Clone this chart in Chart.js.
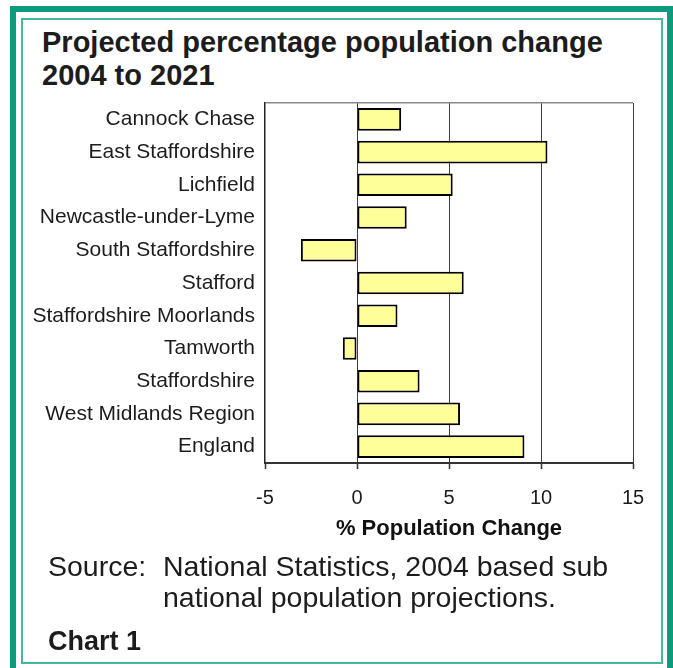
<!DOCTYPE html>
<html>
<head>
<meta charset="utf-8">
<title>Projected percentage population change 2004 to 2021</title>
<script src="https://cdn.jsdelivr.net/npm/chart.js@4/dist/chart.umd.min.js"></script>
<style>
    html, body {
        margin: 0;
        padding: 0;
        background: #ffffff;
        overflow: hidden;
    }
    body {
        position: relative;
        width: 673px;
        height: 668px;
        font-family: "Liberation Sans", Arial, sans-serif;
        color: #1c1c1c;
    }
    .frame-outer {
        position: absolute;
        left: 10px;
        top: 6px;
        width: 651px;
        height: 662px;
        border: 6px solid #0f9a7e;
        border-bottom: none;
    }
    .frame-inner {
        position: absolute;
        left: 21px;
        top: 18px;
        width: 638px;
        height: 642px;
        border: 2px solid #45b69b;
    }
    .title {
        position: absolute;
        left: 42px;
        top: 26px;
        font-size: 29px;
        font-weight: bold;
        line-height: 33px;
    }
    .source {
        position: absolute;
        left: 48px;
        top: 551px;
        font-size: 28.5px;
        line-height: 31px;
        display: flex;
    }
    .source .lbl {
        width: 115px;
    }
    .chart-no {
        position: absolute;
        left: 48px;
        top: 628px;
        font-size: 27px;
        font-weight: bold;
        line-height: 27px;
    }
    #population-chart {
        position: absolute;
        left: 0;
        top: 0;
    }
</style>
</head>
<body>
<div class="frame-outer"></div>
<div class="frame-inner"></div>
<div class="title">Projected percentage population change<br>2004 to 2021</div>
<canvas id="population-chart" width="673" height="668"></canvas>
<div class="source"><span class="lbl">Source:</span><span>National Statistics, 2004 based sub<br>national population projections.</span></div>
<div class="chart-no">Chart 1</div>

<script>
// Areas shown on the chart (top to bottom)
const areas = [
    'Cannock Chase',
    'East Staffordshire',
    'Lichfield',
    'Newcastle-under-Lyme',
    'South Staffordshire',
    'Stafford',
    'Staffordshire Moorlands',
    'Tamworth',
    'Staffordshire',
    'West Midlands Region',
    'England'
];

// % change 2004 - 2021
const percentChange = [2.4, 10.35, 5.2, 2.7, -3.05, 5.8, 2.2, -0.77, 3.4, 5.6, 9.1];

// x axis ticks
const axisMin = -5;
const axisMax = 15;
const axisStep = 5;

const fontFamily = '"Liberation Sans", Arial, sans-serif';

// Build the chart
function renderChart() {
    const canvas = document.getElementById('population-chart');

    new Chart(canvas, {
        type: 'bar',
        data: {
            labels: areas,
            datasets: [{
                data: percentChange,
                backgroundColor: '#ffff99',
                borderColor: '#000000',
                borderWidth: 2,
                borderSkipped: false,
                barPercentage: 0.69,
                categoryPercentage: 1.0
            }]
        },
        options: {
            indexAxis: 'y',
            responsive: false,
            animation: false,
            devicePixelRatio: 1,
            layout: {
                padding: { top: 103, right: 40, bottom: 126, left: 0 }
            },
            plugins: {
                legend: { display: false },
                tooltip: { enabled: false }
            },
            scales: {
                x: {
                    min: axisMin,
                    max: axisMax,
                    ticks: {
                        stepSize: axisStep,
                        color: '#1c1c1c',
                        padding: 17,
                        font: { family: fontFamily, size: 20 }
                    },
                    grid: {
                        // no line at -5 (that is the axis), dark lines at the rest
                        color: ctx => (ctx.tick && ctx.tick.value === axisMin) ? 'rgba(0,0,0,0)' : '#3c3c3c',
                        lineWidth: 1,
                        tickLength: 6,
                        tickColor: '#333333',
                        tickWidth: 1.5
                    },
                    border: { color: '#333333', width: 2 },
                    title: {
                        display: true,
                        text: '% Population Change',
                        color: '#111111',
                        padding: 0,
                        font: { family: fontFamily, size: 22, weight: 'bold' }
                    },
                    afterFit: scale => { scale.height = 79; }
                },
                y: {
                    ticks: {
                        color: '#1c1c1c',
                        padding: 10,
                        font: { family: fontFamily, size: 21 }
                    },
                    grid: {
                        // only the top edge of the plot
                        color: ctx => ctx.index === 0 ? '#8a8a8a' : 'rgba(0,0,0,0)',
                        lineWidth: 1.5,
                        drawTicks: false
                    },
                    border: { color: '#222222', width: 1.5 },
                    afterFit: scale => { scale.width = 265; }
                }
            }
        }
    });
}

document.addEventListener('DOMContentLoaded', renderChart);
</script>
</body>
</html>
